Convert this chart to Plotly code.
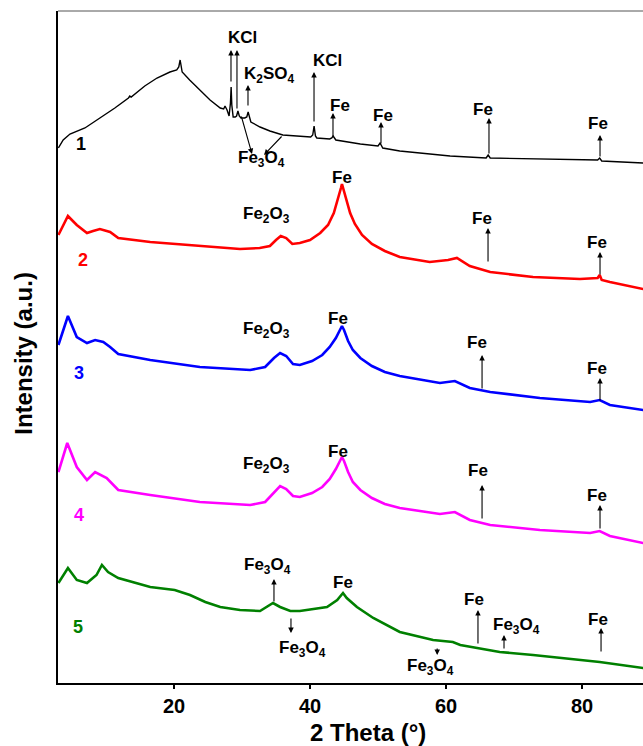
import plotly.graph_objects as go

# ---------------- data (2-theta in degrees, intensity in a.u. with vertical offsets) -------------
tt1 = [3.0, 3.7, 4.7, 6.9, 9.1, 11.3, 13.3, 13.5, 13.7, 15.7, 17.5, 19.4, 20.4, 20.7, 20.9, 21.2, 22.3, 23.8, 25.3,
       26.8, 27.3, 27.5, 27.8, 28.1, 28.3, 28.4, 28.5, 28.7, 29.0, 29.2, 29.4, 29.6, 29.85, 30.4, 30.7, 30.9, 31.1,
       31.3, 32.65, 34.1, 36.0, 38.5, 40.1, 40.4, 40.6, 40.8, 41.0, 42.9, 43.2, 43.4, 43.6, 43.8, 47.4, 50.0, 50.3,
       50.7, 53.2, 60.6, 65.9, 66.2, 66.5, 73.8, 82.3, 82.6, 82.9, 89.0]
i1 = [535, 543, 549, 555, 565, 575, 585, 587, 586, 597, 605, 611, 613, 616, 623, 611, 603, 593, 583,
      575, 574, 577, 573, 567, 580, 596, 578, 566, 566, 567, 572, 567, 565, 565, 566, 571, 566,
      561, 556, 552, 548, 547, 546, 548, 557, 547, 545, 544, 545, 547, 545, 543, 539, 537, 540,
      535, 532, 527, 525, 528, 525, 524, 523, 525, 522, 520]

tt2 = [3.0, 4.4, 5.7, 7.2, 8.1, 9.1, 10.6, 11.8, 16.5, 23.8, 29.7, 32.6, 34.1, 35.0, 35.7, 36.5, 37.4, 38.5, 40.0,
       41.5, 42.65, 43.5, 44.1, 44.55, 44.7, 44.85, 45.3, 45.9, 46.6, 47.65, 49.1, 51.0, 53.2, 57.6, 60.3, 61.6,
       63.5, 66.5, 72.8, 79.7, 82.3, 82.6, 82.9, 84.1, 89.0]
i2 = [448, 467, 458, 450, 452, 454, 451, 445, 441, 437, 434, 435, 437, 443, 447, 445, 439, 440, 443,
      450, 458, 470, 483, 495, 499, 495, 483, 470, 459, 448, 439, 432, 426, 421, 423, 425,
      417, 411, 406, 404, 405, 408, 403, 401, 394]

tt3 = [3.0, 4.4, 5.7, 7.2, 8.4, 9.6, 10.6, 11.8, 16.5, 23.8, 31.2, 33.4, 34.7, 35.6, 36.5, 37.5, 38.5, 40.3, 41.8,
       42.9, 43.8, 44.4, 44.7, 45.0, 45.6, 46.3, 47.4, 49.1, 51.0, 53.2, 59.1, 61.3, 63.5, 66.5, 73.8, 81.2, 82.6,
       84.1, 89.0]
i3 = [338, 367, 346, 340, 343, 341, 336, 329, 323, 316, 313, 316, 325, 330, 327, 319, 318, 322, 328,
      336, 345, 353, 357, 353, 342, 333, 325, 317, 311, 307, 300, 302, 295, 291, 285, 281, 283,
      278, 273]

tt4 = [3.0, 4.3, 5.7, 7.2, 8.4, 10.1, 11.8, 16.5, 23.8, 31.2, 33.4, 34.7, 35.6, 36.5, 37.5, 38.5, 40.3, 41.8,
       42.9, 43.8, 44.4, 44.7, 45.0, 45.6, 46.3, 47.4, 49.1, 51.0, 53.2, 59.1, 61.3, 63.5, 66.5, 73.8, 81.2, 82.6,
       84.1, 89.0]
i4 = [211, 240, 216, 203, 211, 205, 193, 188, 181, 178, 181, 191, 197, 194, 187, 186, 190, 196,
      204, 214, 222, 226, 222, 211, 201, 193, 185, 179, 175, 169, 171, 163, 158, 153, 150, 152,
      147, 140]

tt5 = [3.0, 4.4, 5.7, 7.2, 8.6, 9.4, 10.3, 11.8, 16.5, 20.1, 22.35, 24.6, 26.8, 29.7, 32.65, 34.56, 35.6, 37.1,
       38.5, 40.4, 42.5, 44.0, 44.85, 45.4, 46.9, 49.3, 53.2, 58.1, 61.0, 62.1, 64.6, 67.9, 72.8, 82.6, 89.0]
i5 = [100, 115, 103, 100, 108, 118, 111, 105, 96, 93, 88, 81, 76, 73, 72, 80, 76, 72,
      72, 74, 76, 83, 90, 85, 76, 65, 51, 43, 41, 38, 35, 31, 28, 21, 15]

series = [
    (tt1, i1, "#000000", 1.4),
    (tt2, i2, "#FF0000", 2.6),
    (tt3, i3, "#0000FF", 2.6),
    (tt4, i4, "#FF00FF", 2.6),
    (tt5, i5, "#008000", 2.6),
]

# curve numbers: (text, 2theta, intensity, colour)
curve_labels = [("1", 6.3, 539, "#000000"), ("2", 6.6, 423, "#FF0000"), ("3", 6.0, 310, "#0000FF"),
                ("4", 6.0, 168, "#FF00FF"), ("5", 5.9, 56, "#008000")]

FE3O4 = "Fe<sub>3</sub>O<sub>4</sub>"
FE2O3 = "Fe<sub>2</sub>O<sub>3</sub>"
K2SO4 = "K<sub>2</sub>SO<sub>4</sub>"

# phase labels: (text, 2theta, intensity)
phase_labels = [
    ("KCl", 30.0, 646), (K2SO4, 33.9, 608), ("KCl", 42.6, 623), ("Fe", 44.4, 578), ("Fe", 50.7, 568),
    ("Fe", 65.4, 574), ("Fe", 82.3, 560), (FE3O4, 32.8, 524),
    (FE2O3, 33.6, 468), ("Fe", 44.7, 506), ("Fe", 65.3, 465), ("Fe", 82.2, 441),
    (FE2O3, 33.6, 353), ("Fe", 44.1, 365), ("Fe", 64.6, 341), ("Fe", 82.2, 315),
    (FE2O3, 33.6, 218), ("Fe", 44.1, 232), ("Fe", 64.7, 213), ("Fe", 82.2, 188),
    (FE3O4, 33.8, 117), (FE3O4, 38.9, 34), ("Fe", 44.85, 101), ("Fe", 64.1, 84), (FE3O4, 70.3, 57),
    ("Fe", 82.35, 64), (FE3O4, 57.7, 16),
]

# arrows: (tail 2theta, tail intensity, head 2theta, head intensity)
arrows = [
    (28.38, 600, 28.38, 633), (29.26, 573, 29.26, 633), (30.88, 576, 30.88, 598), (40.59, 560, 40.59, 611),
    (43.38, 545, 43.38, 570), (50.44, 538, 50.44, 561), (66.32, 528, 66.32, 565), (82.65, 525, 82.65, 548),
    (29.85, 568, 31.47, 529), (36.03, 548, 33.24, 528),
    (66.18, 420, 66.18, 455), (82.65, 407, 82.65, 431),
    (65.3, 293, 65.3, 328), (82.65, 281, 82.65, 305),
    (65.3, 163, 65.3, 198), (82.65, 153, 82.65, 178),
    (34.7, 80, 34.7, 104), (37.2, 66, 37.2, 50), (64.7, 38, 64.7, 73), (68.53, 33, 68.53, 48),
    (82.8, 30, 82.8, 55), (58.7, 36, 58.7, 28),
]

x_range = [2.94, 88.97]
y_range = [0, 672]
x_ticks = [20, 40, 60, 80]

FONT = "Liberation Sans, Arial, sans-serif"

fig = go.Figure()
for tt, ii, col, w in series:
    fig.add_trace(go.Scatter(x=tt, y=ii, mode="lines", line=dict(color=col, width=w), showlegend=False,
                             hoverinfo="skip"))

ann = []
for t, x, y, c in curve_labels:
    ann.append(dict(x=x, y=y, xref="x", yref="y", text="<b>%s</b>" % t, showarrow=False,
                    font=dict(family=FONT, size=18, color=c)))
for t, x, y in phase_labels:
    ann.append(dict(x=x, y=y, xref="x", yref="y", text="<b>%s</b>" % t, showarrow=False,
                    font=dict(family=FONT, size=17, color="#000000")))
for tx, ty, hx, hy in arrows:
    ann.append(dict(x=hx, y=hy, ax=tx, ay=ty, xref="x", yref="y", axref="x", ayref="y", text="",
                    showarrow=True, arrowhead=2, arrowsize=1, arrowwidth=1.1, arrowcolor="#000000",
                    standoff=0, startstandoff=0))
# axis titles
ann.append(dict(x=0.53, y=-0.074, xref="paper", yref="paper", text="<b>2 Theta (°)</b>",
                showarrow=False, font=dict(family=FONT, size=24, color="#000000"), yanchor="middle"))
ann.append(dict(x=-0.058, y=0.49, xref="paper", yref="paper", text="<b>Intensity (a.u.)</b>", textangle=-90,
                showarrow=False, font=dict(family=FONT, size=24, color="#000000"), xanchor="center"))

fig.update_layout(
    width=643, height=746,
    margin=dict(l=58, r=0, t=11, b=63),
    paper_bgcolor="white", plot_bgcolor="white",
    annotations=ann,
    shapes=[dict(type="line", xref="paper", yref="paper", x0=0, x1=1, y0=1, y1=1,
                 line=dict(color="#555555", width=1))],
    xaxis=dict(range=x_range, tickvals=x_ticks, ticktext=["<b>%d</b>" % v for v in x_ticks],
               showgrid=False, zeroline=False, showline=True, linecolor="#000000", linewidth=2,
               ticks="outside", ticklen=4, tickwidth=2, tickcolor="#000000",
               tickfont=dict(family=FONT, size=20, color="#000000")),
    yaxis=dict(range=y_range, showgrid=False, zeroline=False, showline=True, linecolor="#000000", linewidth=2,
               ticks="", showticklabels=False),
)

fig.write_html("out.html")
